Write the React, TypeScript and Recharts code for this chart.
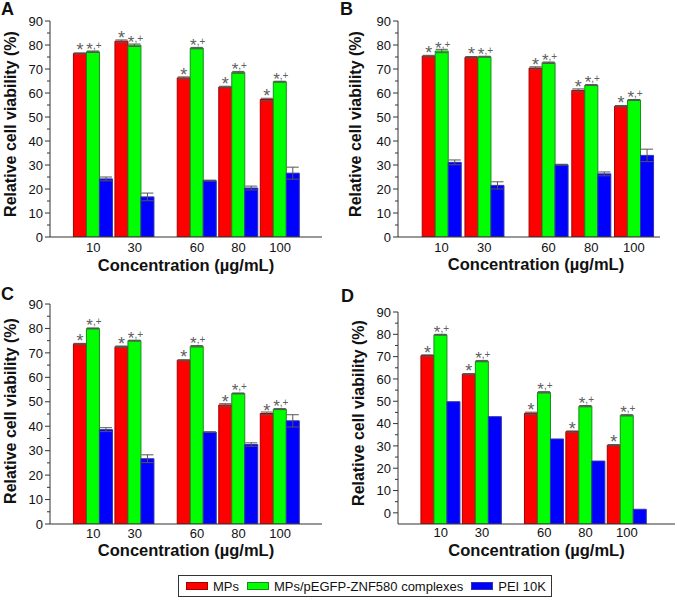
import React from "react";
import { Bar, BarChart, ErrorBar, LabelList, XAxis, YAxis } from "recharts";

const concentrations = ["10", "30", "60", "80", "100"];

// panel A
const mpsA = [76.5, 81.6, 66.3, 62.5, 57.3];
const mpsErrA = [0.2, 0.5, 0.4, 0.3, 0.5];
const cplxA = [77.2, 79.9, 78.7, 68.6, 64.7];
const cplxErrA = [0.3, 0.5, 0.3, 0.4, 0.2];
const peiA = [24.2, 16.7, 23.5, 20.4, 26.6];
const peiErrA = [0.8, 1.6, 0.2, 0.8, 2.5];

// panel B
const mpsB = [75.4, 74.9, 70.4, 61.1, 54.5];
const mpsErrB = [0.3, 0.3, 0.5, 0.6, 0.3];
const cplxB = [77.5, 75.1, 72.6, 63.3, 57.1];
const cplxErrB = [0.7, 0.2, 0.3, 0.2, 0.2];
const peiB = [31.1, 21.5, 30.1, 26.3, 34.0];
const peiErrB = [1.0, 1.5, 0.2, 0.8, 2.6];

// panel C
const mpsC = [73.7, 72.5, 67.0, 48.7, 45.2];
const mpsErrC = [0.2, 0.3, 0.2, 0.5, 0.6];
const cplxC = [80.0, 75.0, 72.7, 53.4, 47.0];
const cplxErrC = [0.2, 0.2, 0.3, 0.2, 0.2];
const peiC = [38.6, 26.7, 37.6, 32.5, 42.2];
const peiErrC = [0.8, 1.6, 0.1, 0.7, 2.5];

// panel D
const mpsD = [70.5, 62.2, 44.6, 36.4, 30.3];
const mpsErrD = [0.3, 0.2, 0.5, 0.3, 0.3];
const cplxD = [79.8, 68.0, 54.0, 47.8, 43.7];
const cplxErrD = [0.2, 0.3, 0.3, 0.3, 0.3];
const peiD = [49.8, 43.1, 33.1, 23.2, 1.6];
const peiErrD = [0, 0, 0, 0, 0];

const yTicks = [0, 5, 10, 15, 20, 25, 30, 35, 40, 45, 50, 55, 60, 65, 70, 75, 80, 85, 90];

const FONT = '"Liberation Sans", Arial, Helvetica, sans-serif';
const AXIS = "#333";

const series = [
  { key: "mps", name: "MPs", fill: "#ff0000", stroke: "#a00000" },
  { key: "cplx", name: "MPs/pEGFP-ZNF580 complexes", fill: "#00ff00", stroke: "#1a8a1a" },
  { key: "pei", name: "PEI 10K", fill: "#0000ff", stroke: "#3333aa" },
];

// 10 and 30 sit one slot apart, then half a slot extra before 60
const slotOf = (i: number) => i + (i >= 2 ? 0.5 : 0);
const slotTicks = concentrations.map((_, i) => slotOf(i));
const slotLabel = (v: number) => concentrations[slotTicks.indexOf(v)] ?? "";

function rows(mps: number[], mpsErr: number[], cplx: number[], cplxErr: number[], pei: number[], peiErr: number[]) {
  return concentrations.map((c, i) => ({
    slot: slotOf(i),
    conc: c,
    mps: mps[i],
    mpsErr: mpsErr[i],
    cplx: cplx[i],
    cplxErr: cplxErr[i],
    pei: pei[i],
    peiErr: peiErr[i],
  }));
}

const panels = [
  {
    letter: "A", lx: 1, ly: 15,
    data: rows(mpsA, mpsErrA, cplxA, cplxErrA, peiA, peiErrA),
    left: 0, top: 0, width: 338, height: 280,
    margin: { top: 21, right: 16, left: 0, bottom: 0 }, yWidth: 50, xHeight: 43, xTickMargin: 6,
    xDomain: [-1.04, 5.51], yDomain: [0, 90], yTitleX: 10, yTitleDy: -5, xTitleDx: 0, xTitleDy: 28,
  },
  {
    letter: "B", lx: 340, ly: 15,
    data: rows(mpsB, mpsErrB, cplxB, cplxErrB, peiB, peiErrB),
    left: 338, top: 0, width: 339, height: 280,
    margin: { top: 21, right: 17, left: 0, bottom: 0 }, yWidth: 60, xHeight: 43, xTickMargin: 6,
    xDomain: [-1.02, 5.11], yDomain: [0, 90], yTitleX: 17, yTitleDy: -5, xTitleDx: 7, xTitleDy: 27,
  },
  {
    letter: "C", lx: 1, ly: 300,
    data: rows(mpsC, mpsErrC, cplxC, cplxErrC, peiC, peiErrC),
    left: 0, top: 280, width: 338, height: 290,
    margin: { top: 24, right: 16, left: 0, bottom: 0 }, yWidth: 50, xHeight: 46, xTickMargin: 5,
    xDomain: [-1.04, 5.51], yDomain: [0, 90], yTitleX: 10, yTitleDy: -3, xTitleDx: 0, xTitleDy: 26,
  },
  {
    letter: "D", lx: 341, ly: 302,
    data: rows(mpsD, mpsErrD, cplxD, cplxErrD, peiD, peiErrD),
    left: 338, top: 280, width: 339, height: 290,
    margin: { top: 32, right: 2, left: 0, bottom: 0 }, yWidth: 60, xHeight: 46, xTickMargin: 4,
    xDomain: [-1.03, 5.66], yDomain: [-5, 90], yTitleX: 20, yTitleDy: -5, xTitleDx: 0, xTitleDy: 26,
  },
];

const YTick = (props: any) => {
  const { x, y, payload } = props;
  const major = payload.value % 10 === 0;
  const ax = x + 7;
  return (
    <g>
      <line x1={ax - (major ? 5 : 3)} x2={ax} y1={y} y2={y} stroke={AXIS} strokeWidth={1} />
      {major && (
        <text x={x} y={y} dy="0.36em" textAnchor="end" fontSize={13} fill="#111" fontFamily={FONT}>
          {payload.value}
        </text>
      )}
    </g>
  );
};

const StarLabel = (props: any) => {
  const { x, y, width } = props;
  return (
    <text x={x + width / 2} y={y + 3} textAnchor="middle" fontSize={18} fill="#606060" fontFamily={FONT}>
      *
    </text>
  );
};

const StarPlusLabel = (props: any) => {
  const { x, y, width } = props;
  return (
    <text x={x + width / 2 + 1} y={y + 3} textAnchor="middle" fontSize={17} fill="#606060" fontFamily={FONT}>
      *<tspan fontSize={10} dy={-6}>,+</tspan>
    </text>
  );
};

const yTitle = (cxOff: number, dy: number) => (props: any) => {
  const vb = props.viewBox;
  const cx = vb.x + cxOff;
  const cy = vb.y + vb.height / 2 + dy;
  return (
    <text
      x={cx}
      y={cy}
      transform={`rotate(-90, ${cx}, ${cy})`}
      textAnchor="middle"
      dominantBaseline="central"
      fontSize={16}
      fontWeight="bold"
      fill="#111"
      fontFamily={FONT}
    >
      Relative cell viability (%)
    </text>
  );
};

const xTitle = (dx: number, dy: number) => (props: any) => {
  const vb = props.viewBox;
  return (
    <text
      x={vb.x + vb.width / 2 + dx}
      y={vb.y + dy}
      textAnchor="middle"
      dominantBaseline="central"
      fontSize={16.5}
      fontWeight="bold"
      fill="#111"
      fontFamily={FONT}
    >
      Concentration (µg/mL)
    </text>
  );
};

function Panel({ p }: { p: (typeof panels)[number] }) {
  const base = p.yDomain[0];
  return (
    <div style={{ position: "absolute", left: p.left, top: p.top }}>
      <BarChart width={p.width} height={p.height} data={p.data} margin={p.margin} barSize={13} barGap={0}>
        <XAxis
          dataKey="slot"
          type="number"
          domain={p.xDomain}
          ticks={slotTicks}
          interval={0}
          allowDataOverflow
          tickFormatter={slotLabel}
          tickLine={false}
          tickSize={0}
          tickMargin={p.xTickMargin}
          height={p.xHeight}
          stroke={AXIS}
          tick={{ fontSize: 13, fill: "#111", fontFamily: FONT }}
          label={xTitle(p.xTitleDx, p.xTitleDy)}
        />
        <YAxis
          type="number"
          domain={p.yDomain}
          ticks={yTicks}
          interval={0}
          allowDataOverflow
          width={p.yWidth}
          tickLine={false}
          tickSize={0}
          tickMargin={7}
          stroke={AXIS}
          tick={(t: any) => <YTick {...t} />}
          label={yTitle(p.yTitleX, p.yTitleDy)}
        />
        {series.map((s) => (
          <Bar
            key={s.key}
            dataKey={(d: any) => [base, d[s.key]]}
            name={s.name}
            fill={s.fill}
            stroke={s.stroke}
            strokeWidth={1}
            isAnimationActive={false}
          >
            <ErrorBar dataKey={`${s.key}Err`} width={6} stroke="#555" strokeWidth={1} direction="y" isAnimationActive={false} />
            {s.key === "mps" && <LabelList dataKey="mps" content={StarLabel} />}
            {s.key === "cplx" && <LabelList dataKey="cplx" content={StarPlusLabel} />}
          </Bar>
        ))}
      </BarChart>
    </div>
  );
}

export default function App() {
  return (
    <div style={{ position: "absolute", left: 0, top: 0, width: 677, height: 600, background: "#fff", fontFamily: FONT }}>
      {panels.map((p) => (
        <Panel key={p.letter} p={p} />
      ))}
      <svg width={677} height={600} style={{ position: "absolute", left: 0, top: 0, pointerEvents: "none" }}>
        {panels.map((p) => (
          <text key={p.letter} x={p.lx} y={p.ly} fontSize={18} fontWeight="bold" fill="#111" fontFamily={FONT}>
            {p.letter}
          </text>
        ))}
      </svg>
      <div
        style={{
          position: "absolute",
          left: 178,
          top: 575,
          width: 374,
          height: 22,
          border: "1px solid #333",
          boxSizing: "border-box",
          display: "flex",
          alignItems: "center",
          paddingLeft: 7,
          fontSize: 13,
          color: "#111",
          whiteSpace: "nowrap",
        }}
      >
        {series.map((s) => (
          <span key={s.key} style={{ display: "flex", alignItems: "center", marginRight: 8 }}>
            <span
              style={{
                display: "inline-block",
                width: 22,
                height: 8,
                background: s.fill,
                border: `1px solid ${s.stroke}`,
                boxSizing: "border-box",
                marginRight: 5,
              }}
            />
            {s.name}
          </span>
        ))}
      </div>
    </div>
  );
}
